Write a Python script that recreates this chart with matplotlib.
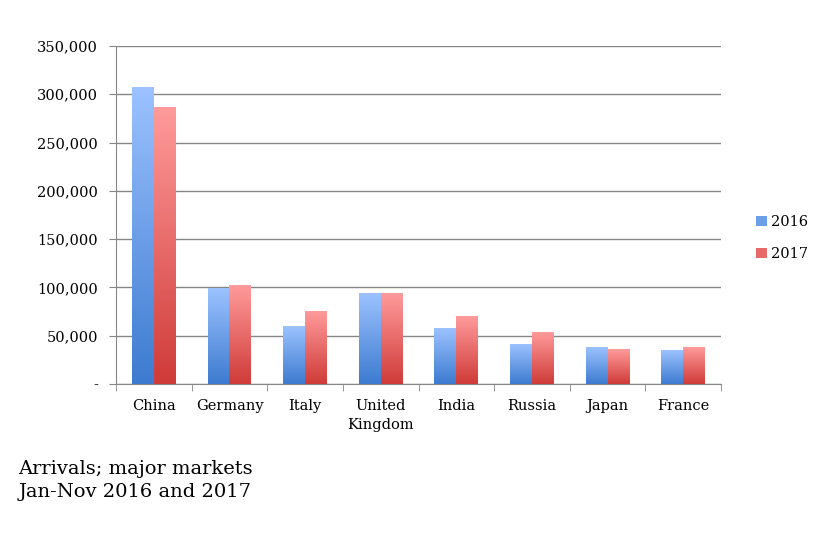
import matplotlib
matplotlib.use("Agg")
import matplotlib.pyplot as plt
import numpy as np
from matplotlib.colors import LinearSegmentedColormap
from matplotlib.patches import Patch
from matplotlib.ticker import FuncFormatter

categories = ["China", "Germany", "Italy", "United\nKingdom", "India", "Russia", "Japan", "France"]
series_names = ["2016", "2017"]
values_2016 = [307500, 98700, 60000, 93200, 57000, 40400, 37300, 35200]
values_2017 = [286800, 102500, 74600, 94200, 70400, 53800, 36200, 37300]
yticks = [0, 50000, 100000, 150000, 200000, 250000, 300000, 350000]
caption = "Arrivals; major markets\nJan-Nov 2016 and 2017"

plt.rcParams['font.family'] = ['DejaVu Serif']

fig = plt.figure(figsize=(8.37, 5.33), dpi=100)
ax = fig.add_axes([0.1386, 0.2795, 0.7228, 0.6342])

cmap_blue = LinearSegmentedColormap.from_list("b", ["#3d7bd0", "#9cc2ff"])
cmap_red = LinearSegmentedColormap.from_list("r", ["#cf3b38", "#ff9b9b"])

x = np.arange(len(categories))
w = 0.29
grad = np.linspace(0, 1, 256).reshape(-1, 1)
for vals, off, cm, name in [(values_2016, -w / 2, cmap_blue, series_names[0]),
                            (values_2017, w / 2, cmap_red, series_names[1])]:
    bars = ax.bar(x + off, vals, width=w, color="none", edgecolor="none", zorder=3)
    for b in bars:
        x0, y0 = b.get_x(), b.get_y()
        ax.imshow(grad, extent=(x0, x0 + b.get_width(), y0, y0 + b.get_height()),
                  origin="lower", cmap=cm, aspect="auto", zorder=3)

ax.set_xlim(-0.5, len(categories) - 0.5)
ax.set_ylim(0, 350000)
ax.set_yticks(yticks)
ax.yaxis.set_major_formatter(FuncFormatter(lambda v, p: "-" if v == 0 else f"{int(v):,}"))
ax.set_xticks(x)
ax.set_xticklabels(categories, fontsize=10.5, linespacing=1.45)
ax.set_xticks(np.arange(-0.5, len(categories)), minor=True)
ax.tick_params(axis="x", which="major", length=0, pad=11)
ax.tick_params(axis="x", which="minor", length=5, color="#868686", direction="out")
ax.tick_params(axis="y", length=5, color="#868686", labelsize=10.5, pad=8)
ax.grid(axis="y", color="#868686", linewidth=1, zorder=0)
for s in ["top", "right"]:
    ax.spines[s].set_visible(False)
for s in ["left", "bottom"]:
    ax.spines[s].set_color("#868686")
ax.set_axisbelow(True)

handles = [Patch(facecolor="#6a9fe8", edgecolor="none"), Patch(facecolor="#e86a68", edgecolor="none")]
fig.legend(handles, series_names, loc="center left", bbox_to_anchor=(0.888, 0.553),
           frameon=False, fontsize=10.5, handlelength=0.7, handleheight=0.7,
           handletextpad=0.3, labelspacing=1.25)

fig.text(0.022, 0.06, caption, fontsize=14, linespacing=1.35, va="bottom", ha="left")

fig.savefig("out.png", dpi=100)
